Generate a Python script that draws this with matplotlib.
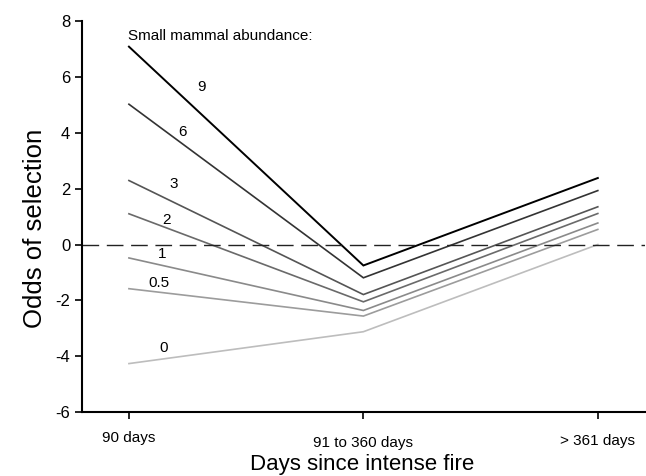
import numpy as np
import matplotlib
matplotlib.use('Agg')
import matplotlib.pyplot as plt
from matplotlib.transforms import ScaledTranslation

plt.rcParams['font.family'] = ['Liberation Sans', 'DejaVu Sans']
plt.rcParams['axes.unicode_minus'] = False

# periods since fire (x categories)
periods = ['90 days', '91 to 360 days', '> 361 days']

# small mammal abundance levels and odds of selection per period
abundance = ['9', '6', '3', '2', '1', '0.5', '0']
odds = {
    '9':   [7.08, -0.75, 2.38],
    '6':   [5.02, -1.19, 1.93],
    '3':   [2.29, -1.79, 1.35],
    '2':   [1.10, -2.05, 1.11],
    '1':   [-0.48, -2.36, 0.77],
    '0.5': [-1.58, -2.56, 0.54],
    '0':   [-4.26, -3.12, 0.00],
}
line_colors = ['#000000', '#333333', '#555555', '#6a6a6a', '#8a8a8a', '#9c9c9c', '#bdbdbd']
# label positions (x in category units, y in data units)
label_pos = {
    '9':   (0.31, 5.63),
    '6':   (0.23, 4.03),
    '3':   (0.19, 2.18),
    '2':   (0.16, 0.88),
    '1':   (0.14, -0.35),
    '0.5': (0.13, -1.37),
    '0':   (0.15, -3.7),
}

fig = plt.figure(figsize=(6.46, 4.76), dpi=100)
ax = fig.add_axes([0.127, 0.134, 0.871, 0.822])

x = np.arange(len(periods))
for name, c in zip(abundance, line_colors):
    ax.plot(x, odds[name], color=c, lw=1.4 if name == '9' else 1.2, solid_joinstyle='miter')
    lx, ly = label_pos[name]
    ax.text(lx, ly, name, fontsize=11, ha='center', va='center')

ax.axhline(0, color='#222222', lw=1.0, dashes=(12, 5.5))
ax.text(-0.005, 7.45, 'Small mammal abundance:', fontsize=11, ha='left', va='center')

ax.set_xlim(-0.2, 2.2)
ax.set_ylim(-6, 8)
ax.set_yticks(np.arange(-6, 9, 2))
ax.set_xticks(x)
ax.set_xticklabels(periods)
ax.tick_params(axis='y', labelsize=12, length=5, width=1.2, direction='out')
ax.tick_params(axis='x', labelsize=11, length=5, width=1.2, direction='out', pad=9)
# slight stagger of category labels as in the original
for lbl, dy in zip(ax.get_xticklabels(), [1, -4, -2]):
    lbl.set_transform(lbl.get_transform() + ScaledTranslation(0, dy / 100, fig.dpi_scale_trans))
ax.spines['top'].set_visible(False)
ax.spines['right'].set_visible(False)
ax.spines['left'].set_linewidth(1.5)
ax.spines['bottom'].set_linewidth(1.5)
ax.set_ylabel('Odds of selection', fontsize=18.5, va='center')
ax.yaxis.set_label_coords(-0.083, 0.47)
ax.set_xlabel('Days since intense fire', fontsize=16, va='center')
ax.xaxis.set_label_coords(0.498, -0.133)

fig.savefig('out.png', dpi=100)
